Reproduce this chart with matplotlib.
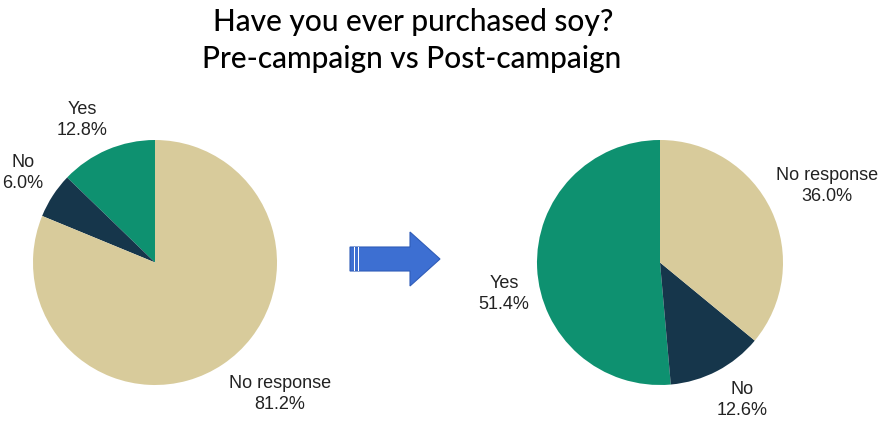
import numpy as np
import matplotlib.pyplot as plt
from matplotlib.patches import Polygon, Rectangle

W, H = 882, 423

categories = ['Yes', 'No', 'No response']
pre_values = [12.8, 6.0, 81.2]
post_values = [51.4, 12.6, 36.0]
colors = ['#0e9170', '#16364b', '#d8cb9b']

fig = plt.figure(figsize=(W / 100, H / 100), dpi=100)
fig.patch.set_facecolor('white')


def px_axes(x0, y0, w, h):
    # pixel box (top-left origin) -> figure fraction
    return fig.add_axes([x0 / W, 1 - (y0 + h) / H, w / W, h / H])


def pie(ax, values):
    ax.pie(values, colors=colors, startangle=90, counterclock=True,
           radius=1, wedgeprops=dict(linewidth=0))
    ax.set_xlim(-1, 1)
    ax.set_ylim(-1, 1)
    ax.set_aspect('auto')
    ax.axis('off')


ax1 = px_axes(33, 140, 244, 245)
pie(ax1, pre_values)
ax2 = px_axes(537, 140, 246, 245)
pie(ax2, post_values)

# title
tfont = dict(family=['Lato', 'DejaVu Sans'], fontsize=21.5, ha='center', va='center',
             weight='medium')
fig.text(413 / W, 1 - 22 / H, 'Have you ever purchased soy?', **tfont)
fig.text(412 / W, 1 - 59 / H, 'Pre-campaign vs Post-campaign', **tfont)

# slice labels
lfont = dict(family=['Liberation Sans', 'DejaVu Sans'], fontsize=13, ha='center', va='center',
             linespacing=1.35, color='#222222')
pre_pos = [(82, 120), (23, 173), (280, 394)]
post_pos = [(504, 294), (742, 400), (827, 186)]
for cat, v, (x, y) in zip(categories, pre_values, pre_pos):
    fig.text(x / W, 1 - y / H, '%s\n%.1f%%' % (cat, v), **lfont)
for cat, v, (x, y) in zip(categories, post_values, post_pos):
    fig.text(x / W, 1 - y / H, '%s\n%.1f%%' % (cat, v), **lfont)

# arrow
axa = px_axes(0, 0, W, H)
axa.set_xlim(0, W)
axa.set_ylim(H, 0)
axa.axis('off')
axa.patch.set_alpha(0)
arrow = Polygon([(350, 247), (410, 247), (410, 232), (440, 259),
                 (410, 286), (410, 271), (350, 271)], closed=True,
                facecolor='#3d6fd2', edgecolor='#2f5cb8', linewidth=0.8)
axa.add_patch(arrow)
for xs in (354, 358):
    axa.add_patch(Rectangle((xs, 247), 1.2, 24, facecolor='white', edgecolor='none'))

fig.savefig('out.png', dpi=100)
